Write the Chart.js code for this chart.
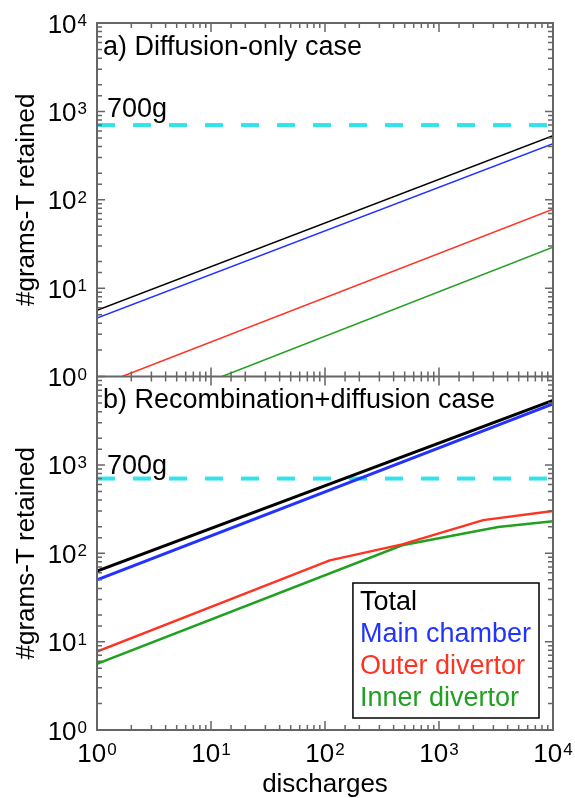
<!DOCTYPE html>
<html>
<head>
<meta charset="utf-8">
<script src="https://cdn.jsdelivr.net/npm/chart.js@4"></script>
<style>body{margin:0;background:#fff}</style>
</head>
<body>
<canvas id="c" width="575" height="798"></canvas>
<script>
// values (discharges, grams of T)
const limitX = [1, 10000];
const limitY = [700, 700];

// a) diffusion-only case
const aX = [1, 10000];
const aTotal = [5.6, 530];
const aMain = [4.6, 430];
const aOuterX = [1.66, 10000];
const aOuter = [1, 78];
const aInnerX = [12.5, 10000];
const aInner = [1, 29];

// b) recombination + diffusion case
const bX = [1, 10000];
const bTotal = [63, 5370];
const bMain = [50, 4900];
const bOuterX = [1, 110, 475, 2440, 10000];
const bOuter = [7.7, 83, 126, 237, 300];
const bInnerX = [1, 475, 3300, 10000];
const bInner = [5.6, 123, 198, 230];

const names = ["Total", "Main chamber", "Outer divertor", "Inner divertor"];
const colors = ["#000000", "#2233ff", "#ff3322", "#22a022"];
const cyan = "#33e3ec";
const frameColor = "#666666";
const FONT = 'Arial, "Liberation Sans", sans-serif';

const pts = (xs, ys) => xs.map((x, i) => ({x, y: ys[i]}));
const isMajor = v => Math.abs(Math.log10(v) - Math.round(Math.log10(v))) < 1e-9;

function line(label, data, color, width, axis) {
  return {label, data, borderColor: color, borderWidth: width, yAxisID: axis,
          pointRadius: 0, tension: 0, fill: false};
}

const datasets = [
  line(names[0], pts(aX, aTotal), colors[0], 1.5, "yTop"),
  line(names[1], pts(aX, aMain), colors[1], 1.5, "yTop"),
  line(names[2], pts(aOuterX, aOuter), colors[2], 1.5, "yTop"),
  line(names[3], pts(aInnerX, aInner), colors[3], 1.5, "yTop"),
  Object.assign(line("", pts(limitX, limitY), cyan, 4, "yTop"), {borderDash: [18, 18]}),
  line(names[0], pts(bX, bTotal), colors[0], 3, "yBot"),
  line(names[1], pts(bX, bMain), colors[1], 3, "yBot"),
  line(names[2], pts(bOuterX, bOuter), colors[2], 2.5, "yBot"),
  line(names[3], pts(bInnerX, bInner), colors[3], 2.5, "yBot"),
  Object.assign(line("", pts(limitX, limitY), cyan, 4, "yBot"), {borderDash: [18, 18]})
];

function yAxis() {
  return {
    type: "logarithmic", min: 1, max: 10000, position: "left",
    stack: "panels", stackWeight: 1,
    grid: {display: false}, border: {display: false},
    ticks: {autoSkip: false, callback: () => ""},
    title: {display: true, text: "#grams-T retained", color: "#000",
            font: {size: 26}, padding: {top: 11, bottom: 0}},
    afterFit: s => { s.width = 97; }
  };
}

// "10" with a raised exponent; anchor: "right" or "center"
function powerLabel(ctx, v, x, y, anchor) {
  const e = String(Math.round(Math.log10(v)));
  ctx.font = "26px " + FONT;
  const w1 = ctx.measureText("10").width;
  ctx.font = "17px " + FONT;
  const w2 = ctx.measureText(e).width + 1;
  const x0 = anchor === "right" ? x - w1 - w2 : x - (w1 + w2) / 2;
  ctx.font = "26px " + FONT;
  ctx.fillText("10", x0, y + 9.5);
  ctx.font = "17px " + FONT;
  ctx.fillText(e, x0 + w1 + 1, y + 3);
}

const panels = {
  id: "panels",
  afterDatasetsDraw(chart) {
    const {ctx, chartArea: a, scales} = chart;
    const x = scales.x, yT = scales.yTop, yB = scales.yBot;
    ctx.save();

    // inward tick marks on all sides of both panels
    ctx.strokeStyle = frameColor;
    ctx.lineWidth = 1.5;
    ctx.beginPath();
    [yT, yB].forEach(s => s.ticks.forEach(t => {
      const py = s.getPixelForValue(t.value);
      const len = isMajor(t.value) ? 8 : 5;
      ctx.moveTo(a.left, py); ctx.lineTo(a.left + len, py);
      ctx.moveTo(a.right, py); ctx.lineTo(a.right - len, py);
    }));
    const edges = [[yT.top, 1], [yT.bottom, -1], [yB.top, 1], [yB.bottom, -1]];
    x.ticks.forEach(t => {
      const px = x.getPixelForValue(t.value);
      const len = isMajor(t.value) ? 9 : 5;
      edges.forEach(([ey, d]) => { ctx.moveTo(px, ey); ctx.lineTo(px, ey + d * len); });
    });
    ctx.stroke();

    // frames
    ctx.lineWidth = 2;
    ctx.strokeRect(a.left, a.top, a.width, a.height);
    ctx.beginPath();
    ctx.moveTo(a.left, yT.bottom); ctx.lineTo(a.right, yT.bottom);
    ctx.stroke();

    // tick labels
    ctx.fillStyle = "#000";
    ctx.textBaseline = "alphabetic";
    yT.ticks.filter(t => isMajor(t.value)).forEach(t =>
      powerLabel(ctx, t.value, a.left - 10, yT.getPixelForValue(t.value), "right"));
    yB.ticks.filter(t => isMajor(t.value) && t.value < 10000).forEach(t =>
      powerLabel(ctx, t.value, a.left - 10, yB.getPixelForValue(t.value), "right"));
    x.ticks.filter(t => isMajor(t.value)).forEach(t =>
      powerLabel(ctx, t.value, x.getPixelForValue(t.value), a.bottom + 22, "center"));

    // panel captions
    ctx.font = "27px " + FONT;
    ctx.fillText("a) Diffusion-only case", a.left + 6, yT.top + 32);
    ctx.fillText("b) Recombination+diffusion case", a.left + 6, yB.top + 31);
    ctx.fillText("700g", a.left + 10, yT.getPixelForValue(700) - 8);
    ctx.fillText("700g", a.left + 10, yB.getPixelForValue(700) - 5);

    // legend box
    const items = chart.data.datasets.filter(d => d.yAxisID === "yBot" && d.label);
    const w = Math.max(...items.map(d => ctx.measureText(d.label).width)) + 15;
    const h = items.length * 32 + 7;
    const bx = a.right - 14 - w, by = a.bottom - 12 - h;
    ctx.lineWidth = 1.5;
    ctx.strokeStyle = "#000";
    ctx.strokeRect(bx, by, w, h);
    ctx.textBaseline = "middle";
    items.forEach((d, i) => {
      ctx.fillStyle = d.borderColor;
      ctx.fillText(d.label, bx + 7, by + 20 + i * 32);
    });
    ctx.restore();
  }
};

new Chart(document.getElementById("c"), {
  type: "line",
  data: {datasets},
  options: {
    responsive: false,
    animation: false,
    font: {family: FONT},
    layout: {padding: {top: 23, right: 22, left: 0, bottom: 0}},
    plugins: {legend: {display: false}, tooltip: {enabled: false}},
    scales: {
      x: {
        type: "logarithmic", min: 1, max: 10000, position: "bottom",
        grid: {display: false}, border: {display: false},
        ticks: {autoSkip: false, maxRotation: 0, callback: () => ""},
        title: {display: true, text: "discharges", color: "#000",
                font: {size: 26, lineHeight: 1}, padding: {top: 0, bottom: 0}},
        afterFit: s => { s.height = 68; }
      },
      yBot: yAxis(),
      yTop: yAxis()
    }
  },
  plugins: [panels]
});
</script>
</body>
</html>
